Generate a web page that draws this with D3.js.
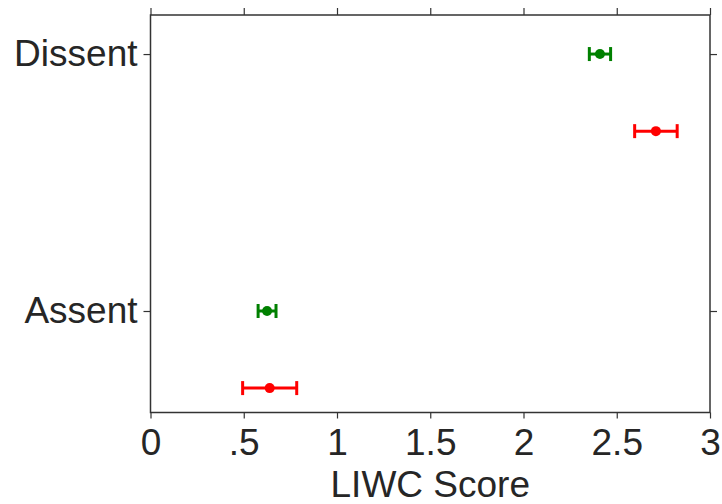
<!DOCTYPE html>
<html>
<head>
<meta charset="utf-8">
<script src="https://cdn.jsdelivr.net/npm/d3@7"></script>
<style>
  html, body { margin: 0; padding: 0; background: #fff; }
  text { font-family: "Liberation Sans", Arial, sans-serif; fill: #262626; }
</style>
</head>
<body>
<svg id="chart" width="722" height="504"></svg>
<script>
// Categories (bottom to top) and the two groups plotted for each
const categories = ["Assent", "Dissent"];
const greenMeans = [0.625, 2.41];
const greenErrors = [0.048, 0.057];
const redMeans = [0.639, 2.71];
const redErrors = [0.145, 0.114];
const xTicks = [0, 0.5, 1, 1.5, 2, 2.5, 3];
const xTickLabels = ["0", ".5", "1", "1.5", "2", "2.5", "3"];
const xLabel = "LIWC Score";

const svg = d3.select("#chart");
const plotLeft = 150.5, plotRight = 710, plotTop = 15, plotBottom = 412.5;

const x = d3.scaleLinear().domain([0, 3]).range([plotLeft, plotRight]);
const y = d3.scaleLinear().domain([-0.395, 1.152]).range([plotBottom, plotTop]);
const redOffset = -0.3;
const axisColor = "#333";
const fontFamily = "Liberation Sans, Arial, sans-serif";
const fontSize = 37;

// Frame
svg.append("rect")
  .attr("x", plotLeft).attr("y", plotTop)
  .attr("width", plotRight - plotLeft).attr("height", plotBottom - plotTop)
  .attr("fill", "none").attr("stroke", axisColor).attr("stroke-width", 1.5);

// Bottom axis with labels, top axis ticks only
const bottomAxis = d3.axisBottom(x).tickValues(xTicks)
  .tickFormat((d, i) => xTickLabels[i]).tickSize(6).tickPadding(10);
const gB = svg.append("g").attr("transform", `translate(0,${plotBottom})`).call(bottomAxis);
gB.select(".domain").remove();
gB.selectAll("line").attr("stroke", axisColor).attr("stroke-width", 1.2);
gB.selectAll("text").attr("font-size", fontSize).attr("fill", "#262626").attr("font-family", fontFamily);

const topAxis = d3.axisTop(x).tickValues(xTicks).tickFormat("").tickSize(7);
const gT = svg.append("g").attr("transform", `translate(0,${plotTop})`).call(topAxis);
gT.select(".domain").remove();
gT.selectAll("line").attr("stroke", axisColor).attr("stroke-width", 1.2);

// Left axis with category labels, right axis ticks only
const catIdx = categories.map((c, i) => i);
const leftAxis = d3.axisLeft(y).tickValues(catIdx)
  .tickFormat(i => categories[i]).tickSize(7).tickPadding(6);
const gL = svg.append("g").attr("transform", `translate(${plotLeft},0)`).call(leftAxis);
gL.select(".domain").remove();
gL.selectAll("line").attr("stroke", axisColor).attr("stroke-width", 1.2);
gL.selectAll("text").attr("font-size", fontSize).attr("fill", "#262626").attr("font-family", fontFamily);

const rightAxis = d3.axisRight(y).tickValues(catIdx).tickFormat("").tickSize(7);
const gR = svg.append("g").attr("transform", `translate(${plotRight},0)`).call(rightAxis);
gR.select(".domain").remove();
gR.selectAll("line").attr("stroke", axisColor).attr("stroke-width", 1.2);

// Axis title
svg.append("text")
  .attr("x", (plotLeft + plotRight) / 2).attr("y", 497)
  .attr("text-anchor", "middle").attr("font-size", fontSize)
  .text(xLabel);

// Error bars with caps and a dot at the mean
function drawSeries(means, errors, offset, color) {
  const g = svg.append("g");
  const rows = categories.map((c, i) => ({ pos: i + offset, m: means[i], e: errors[i] }));
  const capH = 7;
  rows.forEach(r => {
    const cy = y(r.pos);
    g.append("line")
      .attr("x1", x(r.m - r.e)).attr("x2", x(r.m + r.e))
      .attr("y1", cy).attr("y2", cy)
      .attr("stroke", color).attr("stroke-width", 3);
    [r.m - r.e, r.m + r.e].forEach(v => {
      g.append("line")
        .attr("x1", x(v)).attr("x2", x(v))
        .attr("y1", cy - capH).attr("y2", cy + capH)
        .attr("stroke", color).attr("stroke-width", 3);
    });
    g.append("circle")
      .attr("cx", x(r.m)).attr("cy", cy).attr("r", 5)
      .attr("fill", color);
  });
}

drawSeries(greenMeans, greenErrors, 0, "#008000");
drawSeries(redMeans, redErrors, redOffset, "#ff0000");
</script>
</body>
</html>
